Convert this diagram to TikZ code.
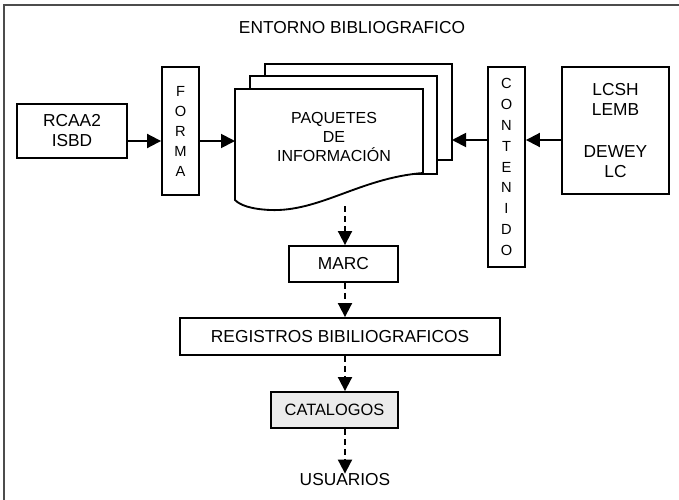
\documentclass[tikz,border=0pt]{standalone}
\usepackage{fontspec}
\setmainfont{Liberation Sans}
\usetikzlibrary{arrows.meta}
\begin{document}
\begin{tikzpicture}[x=0.75pt,y=-0.75pt,
  box/.style={draw, line width=1.4pt, inner sep=0pt, align=center, font=\fontsize{13}{15}\selectfont},
  vbox/.style={box, font=\fontsize{11}{15}\selectfont},
  arr/.style={line width=1.4pt, -{Triangle[length=10.5pt,width=10.5pt]}},
  darr/.style={arr, dash pattern=on 4.5pt off 3pt},
  page/.style={draw, line width=1.4pt, fill=white},
  lbl/.style={inner sep=0pt, align=center, font=\fontsize{13}{15}\selectfont}]
\useasboundingbox (0,0) rectangle (679,500);
\draw[line width=1.5pt, black!70] (4,500) -- (4,5) -- (679,5);
\node[lbl] (title) at (352,28) {ENTORNO BIBLIOGRAFICO};
% left boxes
\node[box, minimum width=110*0.75pt, minimum height=54*0.75pt] (rcaa) at (72,131) {RCAA2\\ISBD};
\node[vbox, minimum width=37*0.75pt, minimum height=128*0.75pt] (forma) at (180.5,131) {F\\O\\R\\M\\A};
% document stack
\draw[page] (265,64) rectangle (452,160);
\draw[page] (250,76) rectangle (437,174);
\draw[page] (235,89) -- (423,89) -- (423,173)
  .. controls (360,178) and (320,212) .. (270,210)
  .. controls (250,209) and (240,205) .. (235,200) -- cycle;
\node[lbl, font=\fontsize{12}{14.25}\selectfont] (paq) at (334,137) {PAQUETES\\DE\\INFORMACIÓN};
\coordinate (paqW) at (235,141);
\coordinate (paqE) at (452,140);
\coordinate (paqS) at (345,206);
% right boxes
\node[vbox, minimum width=37*0.75pt, minimum height=200*0.75pt, font=\fontsize{11}{15.7}\selectfont] (cont) at (506.5,167) {C\\O\\N\\T\\E\\N\\I\\D\\O};
\node[box, minimum width=107*0.75pt, minimum height=127*0.75pt, font=\fontsize{13}{15.4}\selectfont] (lcsh) at (615.5,130.5) {LCSH\\LEMB\\[15.4pt]DEWEY\\LC};
% lower chain
\node[box, minimum width=109*0.75pt, minimum height=36*0.75pt] (marc) at (343.5,264) {MARC};
\node[box, minimum width=320*0.75pt, minimum height=37*0.75pt] (reg) at (340,336.5) {REGISTROS BIBILIOGRAFICOS};
\node[box, fill=black!8, minimum width=127*0.75pt, minimum height=36*0.75pt, font=\fontsize{12.3}{15}\selectfont] (cat) at (334.5,410) {CATALOGOS};
\node[lbl] (usu) at (345,480) {USUARIOS};
% connectors
\draw[arr] (rcaa.east |- paqW) -- (forma.west |- paqW);
\draw[arr] (forma.east |- paqW) -- (paqW);
\draw[arr] (lcsh.west |- paqE) -- (cont.east |- paqE);
\draw[arr] (cont.west |- paqE) -- (paqE);
\draw[darr] (paqS) -- (paqS |- marc.north);
\draw[darr] (paqS |- marc.south) -- (paqS |- reg.north);
\draw[darr] (paqS |- reg.south) -- (paqS |- cat.north);
\draw[darr] (paqS |- cat.south) -- (usu.north);
\end{tikzpicture}
\end{document}
